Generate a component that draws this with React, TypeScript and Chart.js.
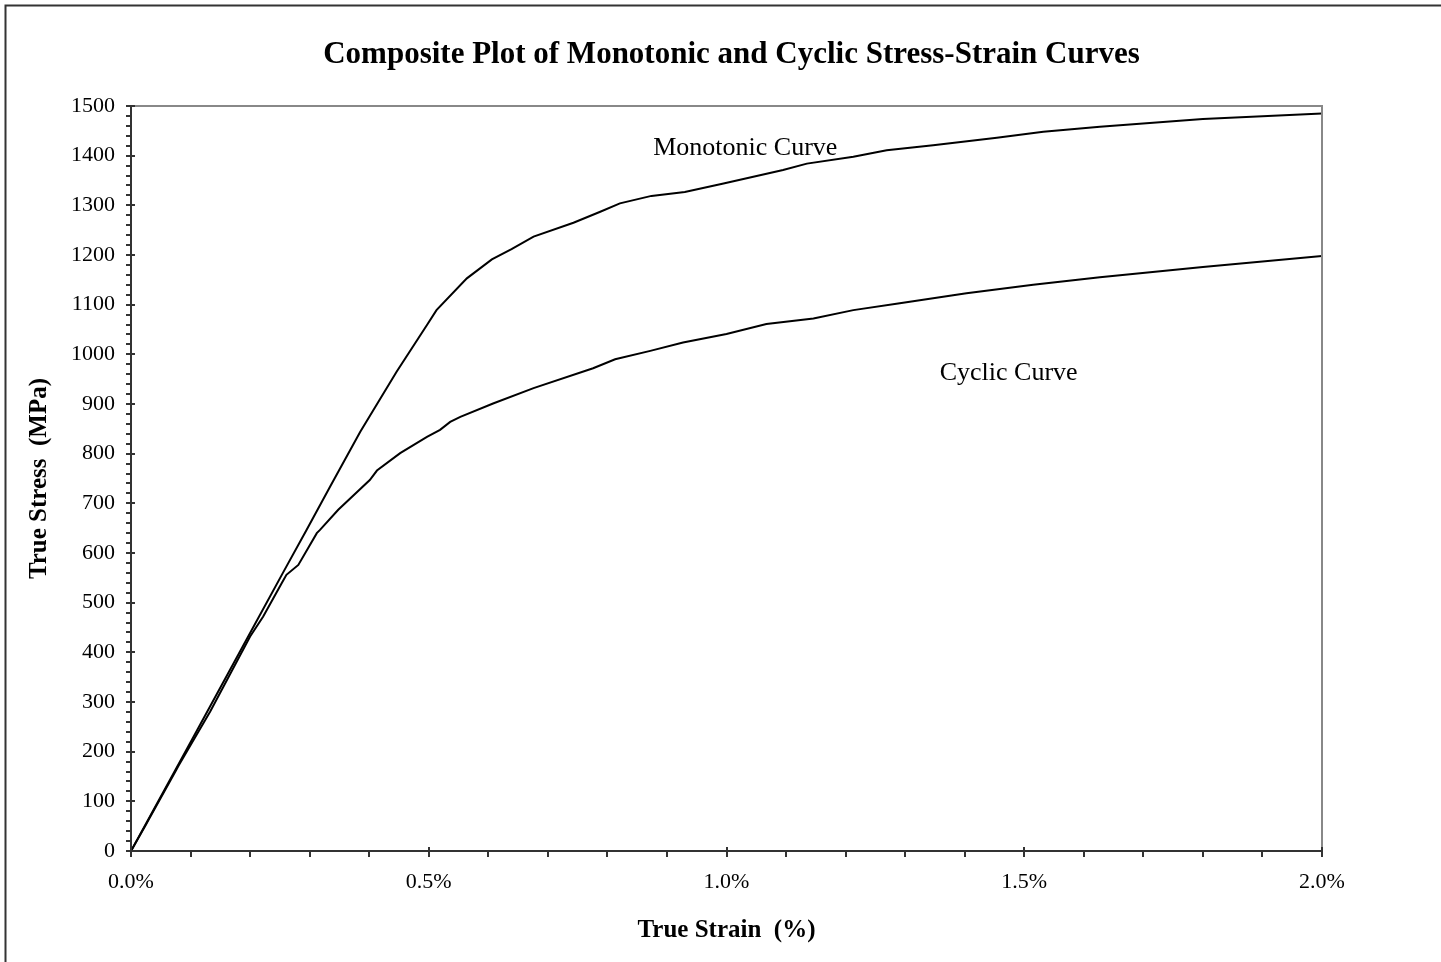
import React, { useEffect, useRef } from 'react';
import { Chart, registerables } from 'chart.js';

Chart.register(...registerables);

// ---- Data (true strain in %, true stress in MPa) ----
const monoStrain = [0, 0.1, 0.2, 0.256, 0.295, 0.334, 0.385, 0.446, 0.497, 0.513, 0.564, 0.606, 0.639, 0.676, 0.743, 0.788, 0.821, 0.874, 0.93, 0.995, 1.095, 1.135, 1.213, 1.269, 1.347, 1.454, 1.532, 1.627, 1.8, 2.0];
const monoStress = [0, 219, 439, 562, 647, 733, 844, 965, 1059, 1089, 1153, 1191, 1212, 1237, 1265, 1287, 1304, 1319, 1327, 1344, 1371, 1384, 1398, 1411, 1421, 1436, 1448, 1458, 1474, 1485];

const cyclicStrain = [0, 0.025, 0.03, 0.075, 0.08, 0.133, 0.2, 0.222, 0.253, 0.261, 0.281, 0.312, 0.317, 0.348, 0.401, 0.413, 0.452, 0.497, 0.519, 0.536, 0.553, 0.608, 0.676, 0.776, 0.813, 0.872, 0.927, 1.0, 1.067, 1.146, 1.213, 1.291, 1.403, 1.515, 1.627, 1.8, 2.0];
const cyclicStress = [0, 53, 64, 161, 172, 281, 432, 472, 539, 556, 576, 640, 646, 687, 747, 766, 801, 834, 848, 864, 874, 901, 932, 972, 990, 1007, 1024, 1041, 1061, 1072, 1089, 1103, 1123, 1140, 1155, 1176, 1198];

const xMin = 0;
const xMax = 2.0;
const xMajorStep = 0.5;
const xMinorStep = 0.1;
const yMin = 0;
const yMax = 1500;
const yMajorStep = 100;
const yMinorStep = 20;

const chartTitle = 'Composite Plot of Monotonic and Cyclic Stress-Strain Curves';
const xAxisTitle = 'True Strain  (%)';
const yAxisTitle = 'True Stress  (MPa)';

const annotationTexts = ['Monotonic Curve', 'Cyclic Curve'];
const annotationStrain = [0.877, 1.358];
const annotationStress = [1401, 949];

const FONT = "'Liberation Serif', 'Times New Roman', serif";

const decorPlugin = {
  id: 'decor',
  afterDraw(chart: any) {
    const { ctx, chartArea: a, scales } = chart;
    const xs = scales.x;
    const ys = scales.y;
    ctx.save();

    // outer frame
    ctx.strokeStyle = '#333333';
    ctx.lineWidth = 2;
    ctx.beginPath();
    ctx.moveTo(5.5, chart.height + 5);
    ctx.lineTo(5.5, 5.5);
    ctx.lineTo(chart.width + 5, 5.5);
    ctx.stroke();

    // plot area top/right border (gray)
    ctx.strokeStyle = '#888888';
    ctx.lineWidth = 2;
    ctx.beginPath();
    ctx.moveTo(a.left, a.top);
    ctx.lineTo(a.right, a.top);
    ctx.lineTo(a.right, a.bottom);
    ctx.stroke();

    // axes lines
    ctx.strokeStyle = '#333333';
    ctx.lineWidth = 2;
    ctx.beginPath();
    ctx.moveTo(a.left, a.top);
    ctx.lineTo(a.left, a.bottom);
    ctx.lineTo(a.right, a.bottom);
    ctx.stroke();

    // y ticks
    ctx.lineWidth = 2;
    const nY = Math.round((yMax - yMin) / yMinorStep);
    for (let i = 0; i <= nY; i++) {
      const v = yMin + i * yMinorStep;
      const y = Math.round(ys.getPixelForValue(v));
      const major = Math.abs(v / yMajorStep - Math.round(v / yMajorStep)) < 1e-6;
      ctx.beginPath();
      ctx.moveTo(a.left - 5, y);
      ctx.lineTo(a.left + (major ? 4 : 1), y);
      ctx.stroke();
    }
    // x ticks
    const nX = Math.round((xMax - xMin) / xMinorStep);
    for (let i = 0; i <= nX; i++) {
      const v = xMin + i * xMinorStep;
      const x = Math.round(xs.getPixelForValue(v));
      const major = Math.abs(v / xMajorStep - Math.round(v / xMajorStep)) < 1e-6;
      ctx.beginPath();
      ctx.moveTo(x, a.bottom + 6);
      ctx.lineTo(x, a.bottom - (major ? 4 : 0));
      ctx.stroke();
    }

    ctx.fillStyle = '#000000';
    // title
    ctx.font = `bold 31px ${FONT}`;
    ctx.textAlign = 'center';
    ctx.textBaseline = 'alphabetic';
    ctx.fillText(chartTitle, (a.left + a.right) / 2 + 5, 63);

    // x axis title
    ctx.font = `bold 25px ${FONT}`;
    ctx.textBaseline = 'middle';
    ctx.fillText(xAxisTitle, (a.left + a.right) / 2, a.bottom + 80);

    // y axis title
    ctx.save();
    ctx.translate(40, (a.top + a.bottom) / 2);
    ctx.rotate(-Math.PI / 2);
    ctx.fillText(yAxisTitle, 0, 0);
    ctx.restore();

    // annotations
    ctx.font = `26px ${FONT}`;
    ctx.textAlign = 'left';
    ctx.textBaseline = 'alphabetic';
    for (let i = 0; i < annotationTexts.length; i++) {
      ctx.fillText(
        annotationTexts[i],
        xs.getPixelForValue(annotationStrain[i]),
        ys.getPixelForValue(annotationStress[i])
      );
    }
    ctx.restore();
  },
};

export default function App() {
  const canvasRef = useRef<HTMLCanvasElement | null>(null);

  useEffect(() => {
    const canvas = canvasRef.current;
    if (!canvas) return;
    const toPts = (xs: number[], ys: number[]) => xs.map((x, i) => ({ x, y: ys[i] }));
    const chart = new Chart(canvas, {
      type: 'line',
      data: {
        datasets: [
          {
            label: 'Monotonic Curve',
            data: toPts(monoStrain, monoStress),
            borderColor: '#000000',
            borderWidth: 2,
            pointRadius: 0,
            tension: 0,
            fill: false,
          },
          {
            label: 'Cyclic Curve',
            data: toPts(cyclicStrain, cyclicStress),
            borderColor: '#000000',
            borderWidth: 2,
            pointRadius: 0,
            tension: 0,
            fill: false,
          },
        ],
      },
      options: {
        animation: false,
        responsive: false,
        maintainAspectRatio: false,
        devicePixelRatio: 1,
        layout: { padding: { top: 106, right: 119, bottom: 0, left: 0 } },
        plugins: {
          legend: { display: false },
          title: { display: false },
          tooltip: { enabled: false },
        },
        scales: {
          x: {
            type: 'linear',
            min: xMin,
            max: xMax,
            grid: { display: false, drawTicks: false },
            border: { display: false },
            ticks: {
              stepSize: xMajorStep,
              padding: 18,
              color: '#000000',
              font: { family: FONT, size: 22 },
              maxRotation: 0,
              callback: (v: any) => Number(v).toFixed(1) + '%',
            },
            afterFit: (s: any) => {
              s.height = 111;
            },
          },
          y: {
            type: 'linear',
            min: yMin,
            max: yMax,
            grid: { display: false, drawTicks: false },
            border: { display: false },
            ticks: {
              stepSize: yMajorStep,
              padding: 16,
              color: '#000000',
              font: { family: FONT, size: 22 },
              callback: (v: any) => String(Math.round(Number(v))),
            },
            afterFit: (s: any) => {
              s.width = 131;
            },
          },
        },
      },
      plugins: [decorPlugin],
    });
    return () => chart.destroy();
  }, []);

  return (
    <div style={{ position: 'fixed', left: 0, top: 0, width: 1441, height: 962, background: '#ffffff' }}>
      <canvas ref={canvasRef} width={1441} height={962} style={{ width: 1441, height: 962, display: 'block' }} />
    </div>
  );
}
